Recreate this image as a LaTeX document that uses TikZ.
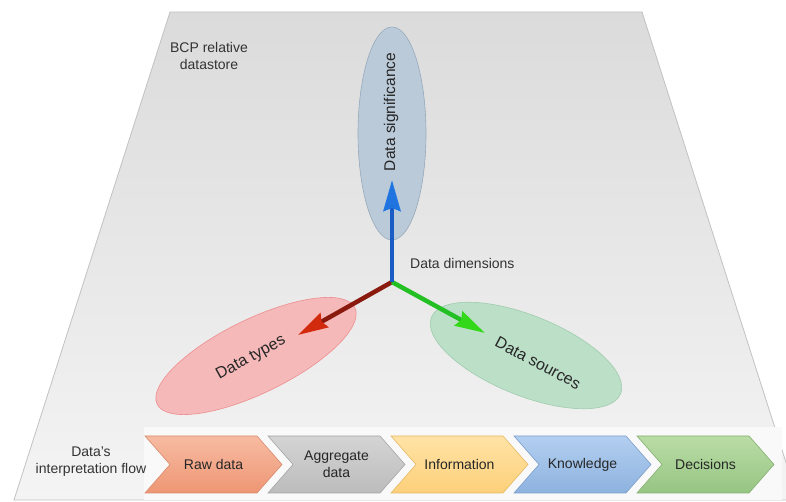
\documentclass[tikz,border=0pt]{standalone}
\usepackage{fontspec}
\setmainfont{Liberation Sans}
\usetikzlibrary{arrows.meta,shapes.geometric}
\definecolor{planetop}{HTML}{DBDBDB}
\definecolor{planebot}{HTML}{F4F4F4}
\definecolor{planeedge}{HTML}{C2C2C2}
\definecolor{bandcol}{HTML}{F9F9F9}
\definecolor{txtcol}{HTML}{333333}
\definecolor{sigfill}{HTML}{BACAD9}
\definecolor{sigdraw}{HTML}{97A9BB}
\definecolor{typfill}{HTML}{F5B9B9}
\definecolor{typdraw}{HTML}{EE8E8E}
\definecolor{srcfill}{HTML}{BCDFC8}
\definecolor{srcdraw}{HTML}{9FCCAE}
\definecolor{blueshaft}{HTML}{1A5BC4}
\definecolor{bluehead}{HTML}{1F74E0}
\definecolor{redshaft}{HTML}{8B1A0E}
\definecolor{redhead}{HTML}{D22A0C}
\definecolor{greenshaft}{HTML}{22C022}
\definecolor{greenhead}{HTML}{33D818}
\definecolor{ctop1}{HTML}{F7BBA2}\definecolor{cbot1}{HTML}{EE9674}\definecolor{cdr1}{HTML}{D98B6D}
\definecolor{ctop2}{HTML}{D4D4D4}\definecolor{cbot2}{HTML}{BCBCBC}\definecolor{cdr2}{HTML}{A6A6A6}
\definecolor{ctop3}{HTML}{FFE3A6}\definecolor{cbot3}{HTML}{FDD07A}\definecolor{cdr3}{HTML}{E6BA66}
\definecolor{ctop4}{HTML}{B3CFF0}\definecolor{cbot4}{HTML}{8DB2DF}\definecolor{cdr4}{HTML}{7C9FCB}
\definecolor{ctop5}{HTML}{BADCA6}\definecolor{cbot5}{HTML}{96C583}\definecolor{cdr5}{HTML}{84B072}
\tikzset{
  lbl/.style={font=\fontsize{14}{17}\selectfont, text=txtcol, align=center, inner sep=0},
  bigl/.style={font=\fontsize{16}{19}\selectfont, text=black!85, inner sep=0},
  blob/.style={ellipse, inner sep=0, line width=0.6pt},
  axis/.style={line width=4.5pt}
}
\begin{document}
\begin{tikzpicture}[x=1pt,y=1pt]
\clip (0,0) rectangle (786,502);
\fill[white] (0,0) rectangle (786,502);
% plane
\path[top color=planetop, bottom color=planebot, draw=planeedge, line width=0.8pt]
  (14,2) -- (170,490) -- (642,490) -- (798,2) -- cycle;
% band
\fill[bandcol] (144,2) rectangle (782,75);
% ellipses
\node[blob, fill=sigfill, draw=sigdraw, minimum width=68, minimum height=213] (sig) at (392,368.5) {};
\node[blob, fill=typfill, draw=typdraw, minimum width=220, minimum height=74, rotate=26] (typ) at (256,146) {};
\node[blob, fill=srcfill, draw=srcdraw, minimum width=204, minimum height=80, rotate=-22] (src) at (526,146.5) {};
% labels in ellipses
\node[bigl, font=\fontsize{15.5}{18}\selectfont, rotate=90] (sigt) at (391,390) {Data significance};
\node[bigl, rotate=29] (typt) at (251,144) {Data types};
\node[bigl, rotate=-28] (srct) at (538,139) {Data sources};
% axes
\coordinate (o) at (392,220);
\coordinate (bt) at (392,322);
\coordinate (rt) at (298,167);
\coordinate (gt) at (485,169);
\draw[axis, redshaft, -{Stealth[length=30pt,width=16pt,inset=3pt,color=redhead]}] (o) -- (rt);
\draw[axis, greenshaft, -{Stealth[length=30pt,width=16pt,inset=3pt,color=greenhead]}] (o) -- (gt);
\draw[axis, blueshaft, -{Stealth[length=31pt,width=17pt,inset=3pt,color=bluehead]}] (o) -- (bt);
\node[lbl, anchor=west] (dd) at (410,238) {Data dimensions};
% texts
\node[lbl] (bcp) at (209,445.5) {BCP relative\\datastore};
\node[lbl] (flow) at (91,40.5) {Data's\\interpretation flow};
% chevrons
\foreach \i/\L/\txt in {1/145/Raw data, 2/268/{Aggregate\\data}, 3/391/Information, 4/514/Knowledge, 5/637/Decisions}{
  \path[draw=cdr\i, top color=ctop\i, bottom color=cbot\i, line width=0.6pt]
    (\L,66) -- ++(112,0) -- ++(25,-28.5) -- ++(-25,-28.5) -- ++(-112,0) -- ++(25,28.5) -- cycle;
  \node[lbl, text=black!85] (chev\i) at (\L+68.5,37.5) {\txt};
}
\end{tikzpicture}
\end{document}
